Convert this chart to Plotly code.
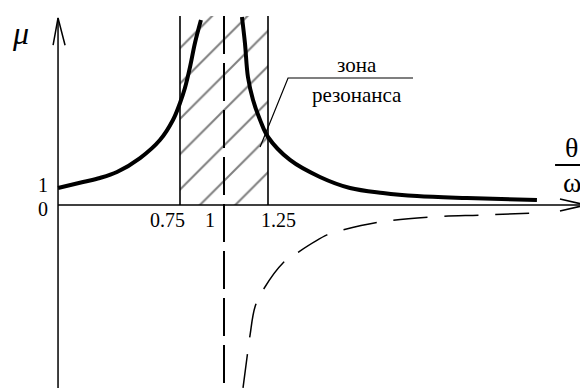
import plotly.graph_objects as go

# θ/ω and μ (schematic scale)
left_x = [0.057, 0.199, 0.295, 0.392, 0.523, 0.636, 0.710, 0.75, 0.778, 0.807, 0.835, 0.869]
left_mu = [1.0, 1.35, 1.59, 1.94, 2.76, 3.82, 5.0, 6.0, 6.88, 8.12, 9.53, 10.88]

right_x = [1.102, 1.119, 1.136, 1.165, 1.205, 1.25, 1.375, 1.545, 1.716, 1.903, 2.097, 2.381, 2.778]
right_mu = [11.06, 9.53, 7.53, 6.18, 5.0, 4.0, 2.65, 1.65, 1.0, 0.71, 0.53, 0.41, 0.29]

neg_x = [1.108, 1.131, 1.148, 1.176, 1.222, 1.335, 1.415, 1.585, 1.676, 1.886, 2.170, 2.472, 2.767]
neg_mu = [-10.76, -8.94, -7.65, -6.0, -5.0, -3.41, -2.82, -1.76, -1.47, -1.0, -0.71, -0.59, -0.47]

zone = [0.75, 1.25]
zone_top = 11.12
resonance = 1.0

x_ticks = [0.75, 1, 1.25]
x_tick_text = ["0.75", "1", "1.25"]
y_ticks = [0, 1]
y_tick_text = ["0", "1"]

# page has an 8px body margin, ranges are set so the figure lines up with it
XR = [-0.22727, 3.06818]
YR = [-10.765, 11.588]
x0 = 0.057          # where the μ axis stands
x_end = 3.057       # tip of the θ/ω arrow
mu_top = 11.0       # tip of the μ arrow

SERIF = "Liberation Serif, Times New Roman, serif"

fig = go.Figure()

# hatched resonance zone
fig.add_trace(go.Scatter(
    x=[zone[0], zone[1], zone[1], zone[0], zone[0]],
    y=[0, 0, zone_top, zone_top, 0],
    fill="toself", fillcolor="rgba(0,0,0,0)",
    fillpattern=dict(shape="/", size=25, solidity=0.08, fgcolor="black", bgcolor="white"),
    line=dict(width=0), mode="lines", hoverinfo="skip"))
fig.add_trace(go.Scatter(
    x=[zone[0], zone[0], None, zone[1], zone[1]],
    y=[0, zone_top, None, 0, zone_top],
    mode="lines", line=dict(color="black", width=1.6), hoverinfo="skip"))

# asymptote
fig.add_trace(go.Scatter(
    x=[resonance, resonance], y=[zone_top, YR[0]],
    mode="lines", line=dict(color="black", width=2, dash="38px,9px")))

# axes with open arrows
fig.add_trace(go.Scatter(
    x=[x0, x0, None, x0, x_end],
    y=[mu_top, YR[0], None, 0, 0],
    mode="lines", line=dict(color="black", width=1.5)))
fig.add_trace(go.Scatter(
    x=[x0 - 0.028, x0, x0 + 0.040],
    y=[mu_top - 1.6, mu_top, mu_top - 1.6],
    mode="lines", line=dict(color="black", width=1.5)))
fig.add_trace(go.Scatter(
    x=[x_end - 0.148, x_end, x_end - 0.148],
    y=[0.35, 0, -0.35],
    mode="lines", line=dict(color="black", width=1.5)))

# curves
fig.add_trace(go.Scatter(x=left_x, y=left_mu, mode="lines", line_shape="spline",
                         line=dict(color="black", width=4)))
fig.add_trace(go.Scatter(x=right_x, y=right_mu, mode="lines", line_shape="spline",
                         line=dict(color="black", width=4)))
fig.add_trace(go.Scatter(x=neg_x, y=neg_mu, mode="lines", line_shape="spline",
                         line=dict(color="black", width=1.5, dash="34px,17px")))

# leader for the zone label
fig.add_trace(go.Scatter(x=[1.205, 1.364, 2.074], y=[3.41, 7.47, 7.47],
                         mode="lines", line=dict(color="black", width=1.2)))

# fraction bar of θ/ω
fig.add_trace(go.Scatter(x=[2.881, 3.068], y=[2.35, 2.35],
                         mode="lines", line=dict(color="black", width=2)))

ann = []
shifts = [-13, -14, 10]
for v, t, s in zip(x_ticks, x_tick_text, shifts):
    ann.append(dict(x=v, y=0, text=t, xshift=s, yshift=-15, showarrow=False,
                    font=dict(size=20, family=SERIF, color="black")))
for v, t in zip(y_ticks, y_tick_text):
    ann.append(dict(x=x0, y=v, text=t, xshift=-15, yshift=3 if v else -4, showarrow=False,
                    font=dict(size=20, family=SERIF, color="black")))
ann.append(dict(x=1.756, y=8.24, text="зона", showarrow=False,
                font=dict(size=21, family=SERIF, color="black")))
ann.append(dict(x=1.756, y=6.47, text="резонанса", showarrow=False,
                font=dict(size=21, family=SERIF, color="black")))
ann.append(dict(x=x0, y=mu_top, text="<i>μ</i>", xshift=-38, yshift=-15, showarrow=False,
                font=dict(size=32, family=SERIF, color="black")))
ann.append(dict(x=2.977, y=3.41, text="θ", showarrow=False,
                font=dict(size=28, family=SERIF, color="black")))
ann.append(dict(x=2.977, y=1.35, text="ω", showarrow=False,
                font=dict(size=28, family=SERIF, color="black")))

fig.update_layout(
    width=580, height=380,
    margin=dict(l=0, r=0, t=0, b=0),
    paper_bgcolor="white", plot_bgcolor="white",
    showlegend=False,
    xaxis=dict(range=XR, visible=False, fixedrange=True),
    yaxis=dict(range=YR, visible=False, fixedrange=True),
    annotations=ann,
)

fig.write_html("out.html")
